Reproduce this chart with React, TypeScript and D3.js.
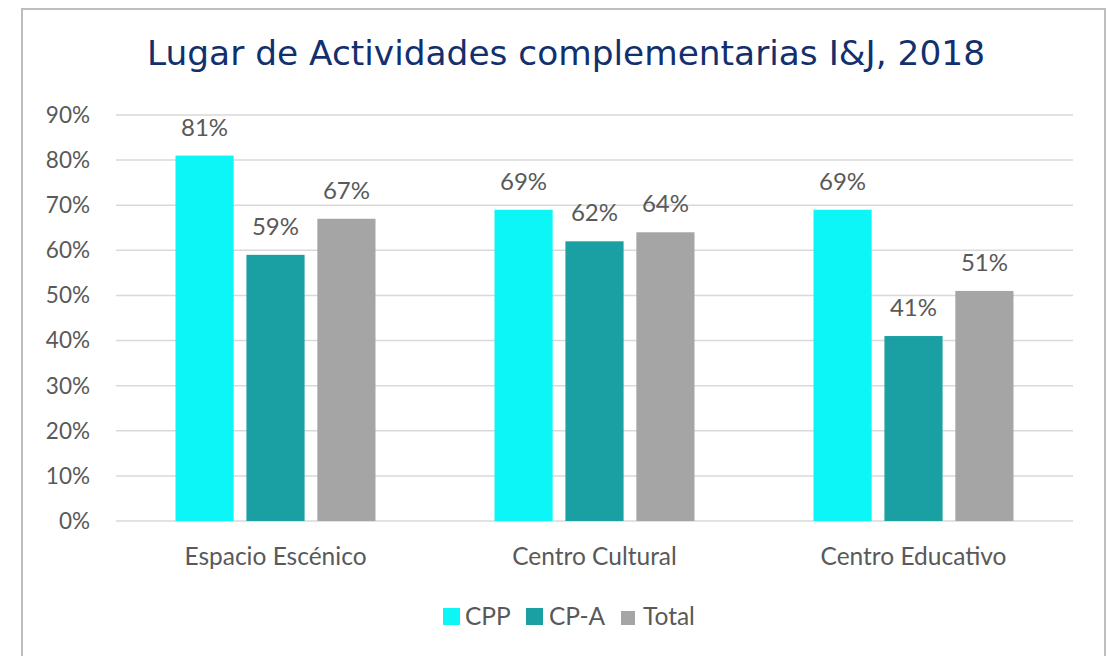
import React from "react";
import * as d3 from "d3";

const categories = ["Espacio Escénico", "Centro Cultural", "Centro Educativo"];
const seriesNames = ["CPP", "CP-A", "Total"];
const cppValues = [81, 69, 69];
const cpaValues = [59, 62, 41];
const totalValues = [67, 64, 51];
const yTicks = [0, 10, 20, 30, 40, 50, 60, 70, 80, 90];
const colors = ["#0cf5f7", "#1a9fa3", "#a5a5a5"];

const W = 1114;
const H = 656;
const plot = { left: 116, right: 1073, top: 115, bottom: 521 };

export default function App() {
  const series = [cppValues, cpaValues, totalValues];
  const x0 = d3.scaleBand<string>().domain(categories).range([plot.left, plot.right]).paddingInner(0).paddingOuter(0);
  const x1 = d3.scaleBand<string>().domain(seriesNames).range([0, 200]).paddingInner(0.18);
  const groupOffset = (x0.bandwidth() - 200) / 2;
  const y = d3.scaleLinear().domain([0, 90]).range([plot.bottom, plot.top]);
  const font = "Lato, 'Open Sans', sans-serif";
  const gray = "#595959";

  const legendItems = [
    { name: "CPP", sx: 443, tx: 465, s: 17 },
    { name: "CP-A", sx: 526, tx: 549, s: 17 },
    { name: "Total", sx: 621, tx: 643, s: 14 },
  ];

  return (
    <svg width={W} height={H} style={{ position: "absolute", left: 0, top: 0 }}>
      <rect x={0} y={0} width={W} height={H} fill="#fff" />
      <rect x={22} y={9} width={1083} height={700} fill="#fff" stroke="#bdbdbd" strokeWidth={2} />
      <text x={566} y={65} textAnchor="middle" fontFamily="'DejaVu Sans', Verdana, sans-serif" fontSize={33}
        fill="#13306e" textLength={838} lengthAdjust="spacingAndGlyphs">
        Lugar de Actividades complementarias I&amp;J, 2018
      </text>
      {yTicks.map((t) => (
        <g key={t}>
          <line x1={plot.left} x2={plot.right} y1={y(t)} y2={y(t)} stroke="#d9d9d9" strokeWidth={1.5} />
          <text x={90} y={y(t)} dy="0.35em" textAnchor="end" fontFamily={font} fontSize={22.5} fill={gray}>
            {t}%
          </text>
        </g>
      ))}
      {categories.map((c, ci) => (
        <g key={c}>
          {series.map((vals, si) => {
            const bx = (x0(c) as number) + groupOffset + (x1(seriesNames[si]) as number);
            const bw = x1.bandwidth();
            return (
              <g key={si}>
                <rect x={bx} y={y(vals[ci])} width={bw} height={y(0) - y(vals[ci])} fill={colors[si]} />
                <text x={bx + bw / 2} y={y(vals[ci]) - 20} textAnchor="middle" fontFamily={font} fontSize={24} fill={gray}>
                  {vals[ci]}%
                </text>
              </g>
            );
          })}
          <text x={(x0(c) as number) + x0.bandwidth() / 2} y={565} textAnchor="middle" fontFamily={font} fontSize={24.5} fill={gray}>
            {c}
          </text>
        </g>
      ))}
      {legendItems.map((l, i) => (
        <g key={l.name}>
          <rect x={l.sx} y={625 - l.s} width={l.s} height={l.s} fill={colors[i]} />
          <text x={l.tx} y={625} fontFamily={font} fontSize={24.5} fill={gray}>
            {l.name}
          </text>
        </g>
      ))}
    </svg>
  );
}
